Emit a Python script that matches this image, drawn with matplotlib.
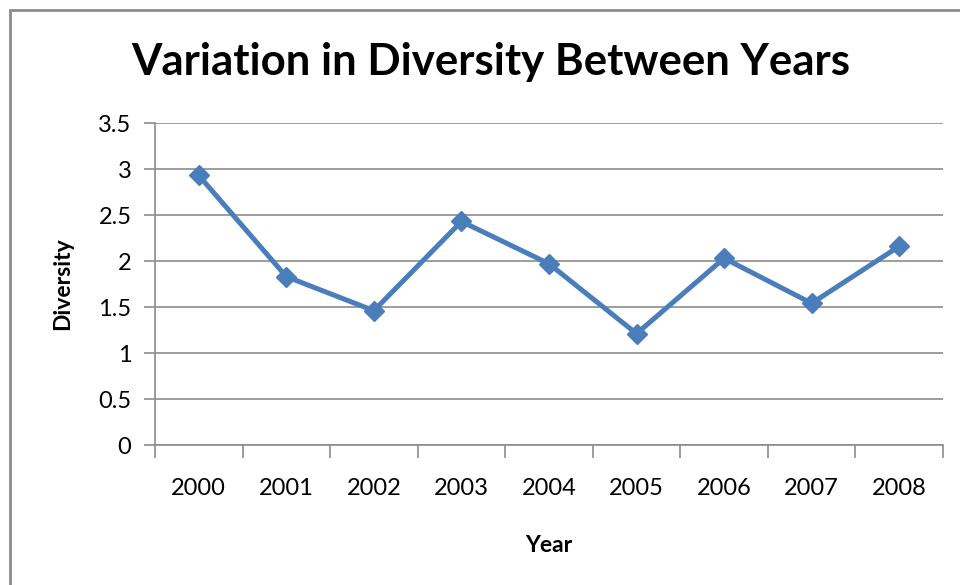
import numpy as np
import matplotlib.pyplot as plt
from matplotlib.patches import Rectangle

years = ['2000', '2001', '2002', '2003', '2004', '2005', '2006', '2007', '2008']
diversity = [2.93, 1.83, 1.46, 2.43, 1.97, 1.21, 2.03, 1.54, 2.16]
yticks = [0, 0.5, 1, 1.5, 2, 2.5, 3, 3.5]

plt.rcParams['font.family'] = ['Lato', 'DejaVu Sans']
grey = '#8c8c8c'

fig = plt.figure(figsize=(9.6, 5.85), dpi=100)
# outer chart border (cut off at right and bottom like the screenshot)
fig.patches.append(Rectangle((10/960, -0.1), 1.2, 1 - 10/585 + 0.1, transform=fig.transFigure,
                             fill=False, edgecolor=grey, lw=2))

ax = fig.add_axes([155/960, 1 - 445/585, (943-155)/960, (445-123)/585])
x = np.arange(len(years))
ax.plot(x, diversity, color='#4A7EBB', lw=3.6, marker='D', ms=10, zorder=3)

ax.set_xlim(-0.5, len(years) - 0.5)
ax.set_ylim(0, 3.5)
ax.set_yticks(yticks)
ax.set_yticklabels([f'{v:g}' for v in yticks])
ax.set_xticks(x)
ax.set_xticklabels(years)
ax.set_xticks(np.arange(len(years) + 1) - 0.5, minor=True)
ax.tick_params(axis='x', which='major', length=0, pad=24, labelsize=17)
ax.tick_params(axis='x', which='minor', length=9, color=grey, width=1.2)
ax.tick_params(axis='y', length=8, color=grey, width=1.2, pad=9, labelsize=17)
ax.grid(axis='y', color=grey, lw=1.2)
for s in ['top', 'right']:
    ax.spines[s].set_visible(False)
for s in ['left', 'bottom']:
    ax.spines[s].set_color(grey)
    ax.spines[s].set_linewidth(1.2)

ax.set_ylabel('Diversity', fontsize=16.5, fontweight='bold', labelpad=18)
ax.set_xlabel('Year', fontsize=16.5, fontweight='bold', labelpad=26)
fig.text(491/960, 1 - 62/585, 'Variation in Diversity Between Years', ha='center', va='center',
         fontsize=31.5, fontweight='bold')

fig.savefig('out.png', dpi=100)
